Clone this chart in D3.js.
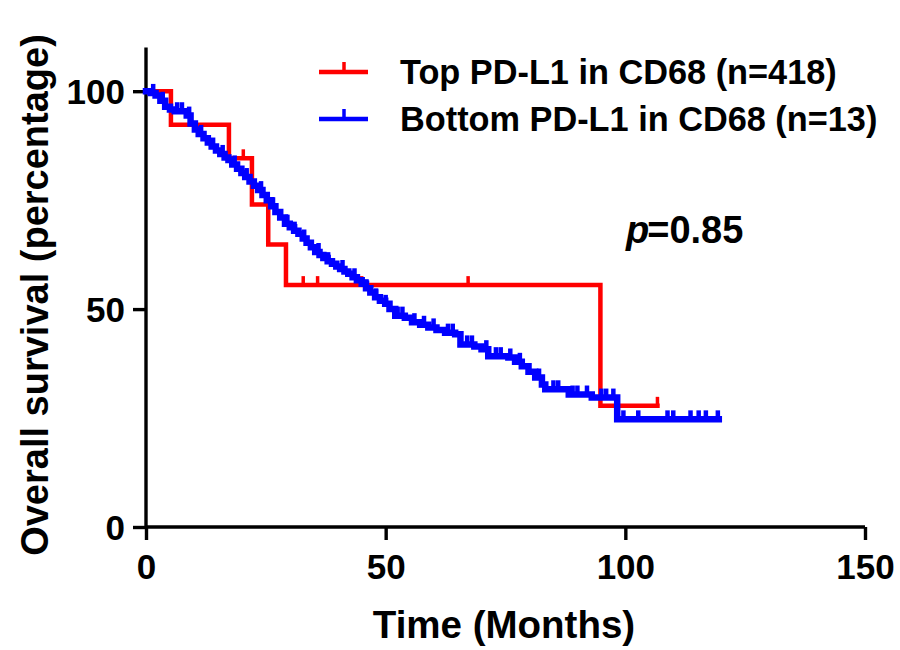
<!DOCTYPE html>
<html>
<head>
<meta charset="utf-8">
<script src="https://cdn.jsdelivr.net/npm/d3@7"></script>
<style>
  html, body { margin: 0; padding: 0; background: #fff; }
  svg { display: block; }
  text { font-family: "Liberation Sans", Arial, Helvetica, sans-serif; font-weight: bold; fill: #000; }
</style>
</head>
<body>
<svg id="chart" width="900" height="650"></svg>
<script>
// ---------- data ----------
const seriesNames = ["Top PD-L1 in CD68 (n=418)", "Bottom PD-L1 in CD68 (n=13)"];
const seriesColors = ["#FF0000", "#0000FF"];

const redTimes = [0, 5.2, 17.3, 22.1, 25.5, 29.2, 94.8, 106.7];
const redSurv  = [100, 92.3, 84.6, 74.0, 64.8, 55.5, 27.8, 27.8];
const redCensor = [20.3, 32.8, 35.8, 45.0, 67.2, 106.7];

const blueTimes = [0, 1, 2, 3, 4, 5, 6, 8.5, 9.3, 10.2, 11, 12, 12.9, 13.7, 14.6, 15.5, 16.4, 17.2,
  18, 19, 19.9, 20.7, 21.6, 22.5, 23.4, 24.3, 25.2, 26.1, 27.0, 28.0, 29.0, 30.0, 30.9, 31.8,
  32.7, 33.5, 34.4, 35.3, 36.2, 37.0, 37.9, 38.8, 39.7, 40.5, 41.4, 42.2, 43.1, 44.0, 45.0,
  45.9, 46.8, 47.8, 48.8, 49.9, 50.8, 52.0, 54.0, 55.5, 57.2, 58.9, 60.6, 62.4, 64.5, 65.6,
  68.5, 70.0, 71.4, 75.6, 77.0, 78.4, 79.8, 81.2, 82.6, 83.3, 88.2, 93.0, 98.3, 119.5];
const blueSurv = [100, 99.6, 99.0, 97.8, 96.4, 95.8, 95.4, 94.4, 92.6, 91.2, 90.2, 89.2, 88.2, 87.3, 86.4, 85.6, 84.8, 84.2,
  83.2, 82.2, 81.2, 80.3, 79.3, 78.3, 77.3, 76.2, 75.0, 73.6, 72.3, 71.0, 69.6, 68.8, 68.0, 67.3,
  66.2, 65.2, 64.2, 63.1, 62.4, 61.7, 61.0, 60.4, 59.8, 59.2, 58.6, 58.1, 57.3, 56.6, 55.8,
  54.8, 53.8, 52.7, 51.9, 51.2, 50.0, 48.5, 48.0, 47.0, 46.4, 45.8, 45.2, 44.6, 44.2, 41.9,
  41.4, 40.8, 39.2, 38.9, 37.9, 36.9, 35.6, 34.3, 32.7, 31.6, 30.4, 29.7, 24.7, 24.7];
const blueCensor = [1.5, 3.5, 6.5, 7.5, 9, 11.5, 14, 16, 18.5, 21, 24, 26.5, 29.5, 31, 33, 36, 38,
  41, 43.5, 46, 48, 50, 52.5, 53.5, 56, 58, 60, 63, 64, 67, 68, 71, 73, 74, 76, 78, 82, 85, 86,
  89, 90, 92, 95, 96, 97.5, 99.6, 102.7, 108.8, 110.0, 113.6, 115.3, 116.8, 119.3];

const xTicks = [0, 50, 100, 150];
const yTicks = [0, 50, 100];
const xTitle = "Time (Months)";
const yTitle = "Overall survival (percentage)";
const pLabel = ["p", "=0.85"];

// ---------- layout ----------
const svg = d3.select("#chart");
const x = d3.scaleLinear().domain([0, 150]).range([146, 865]);
const y = d3.scaleLinear().domain([0, 110]).range([527, 47.6]);

// axes
const xAxis = d3.axisBottom(x).tickValues(xTicks).tickSize(13).tickPadding(14).tickSizeOuter(0);
const yAxis = d3.axisLeft(y).tickValues(yTicks).tickSize(13).tickPadding(8).tickSizeOuter(0);

const gx = svg.append("g").attr("transform", `translate(0,${y(0)})`).call(xAxis);
const gy = svg.append("g").attr("transform", `translate(${x(0)},0)`).call(yAxis);
[gx, gy].forEach(g => {
  g.select(".domain").attr("stroke", "#000").attr("stroke-width", 3.4);
  g.selectAll(".tick line").attr("stroke", "#000").attr("stroke-width", 3.4);
  g.selectAll(".tick text").style("font-size", "35px").style("font-weight", "bold")
    .style("font-family", '"Liberation Sans", Arial, sans-serif').attr("fill", "#000");
});
gx.select(".domain").attr("d", `M${x(0)},0H${x(150)}`);
gy.select(".domain").attr("d", `M0,${y(110)}V${y(0)}`);
gx.selectAll(".tick text").attr("dy", "0.71em");
gy.selectAll(".tick text").attr("dy", "0.36em");

// titles
svg.append("text").attr("x", 504).attr("y", 638).attr("text-anchor", "middle")
  .style("font-size", "38.5px").text(xTitle);
svg.append("text").attr("transform", "translate(48,295) rotate(-90)").attr("text-anchor", "middle")
  .style("font-size", "38px").text(yTitle);

// ---------- curves ----------
function survAt(times, surv, t) {
  const i = d3.bisectRight(times, t) - 1;
  return surv[Math.max(0, i)];
}
const line = d3.line().x(d => x(d[0])).y(d => y(d[1])).curve(d3.curveStepAfter);

function drawSeries(times, surv, censor, color, width, tickW) {
  const g = svg.append("g");
  const pts = times.map((t, i) => [t, surv[i]]);
  g.append("path").attr("d", line(pts)).attr("fill", "none").attr("stroke", color)
    .attr("stroke-width", width).attr("stroke-linejoin", "miter").attr("stroke-linecap", "square");
  g.selectAll("line.c").data(censor).enter().append("line")
    .attr("x1", d => x(d)).attr("x2", d => x(d))
    .attr("y1", d => y(survAt(times, surv, d)))
    .attr("y2", d => y(survAt(times, surv, d)) - 9)
    .attr("stroke", color).attr("stroke-width", tickW);
}
drawSeries(redTimes, redSurv, redCensor, seriesColors[0], 4.5, 3.5);
drawSeries(blueTimes, blueSurv, blueCensor, seriesColors[1], 6.5, 4.5);

// ---------- legend ----------
const legY = [72, 119];
seriesNames.forEach((name, i) => {
  const g = svg.append("g");
  g.append("line").attr("x1", 319).attr("x2", 368).attr("y1", legY[i]).attr("y2", legY[i])
    .attr("stroke", seriesColors[i]).attr("stroke-width", 4.5);
  g.append("line").attr("x1", 344).attr("x2", 344).attr("y1", legY[i]).attr("y2", legY[i] - 10)
    .attr("stroke", seriesColors[i]).attr("stroke-width", 3.5);
  g.append("text").attr("x", 400).attr("y", legY[i] + 12).style("font-size", "34.3px").text(name);
});

// p value
const pt = svg.append("text").attr("x", 626).attr("y", 243).style("font-size", "38px");
pt.append("tspan").style("font-style", "italic").text(pLabel[0]);
pt.append("tspan").attr("dx", -2).text(pLabel[1]);
</script>
</body>
</html>
